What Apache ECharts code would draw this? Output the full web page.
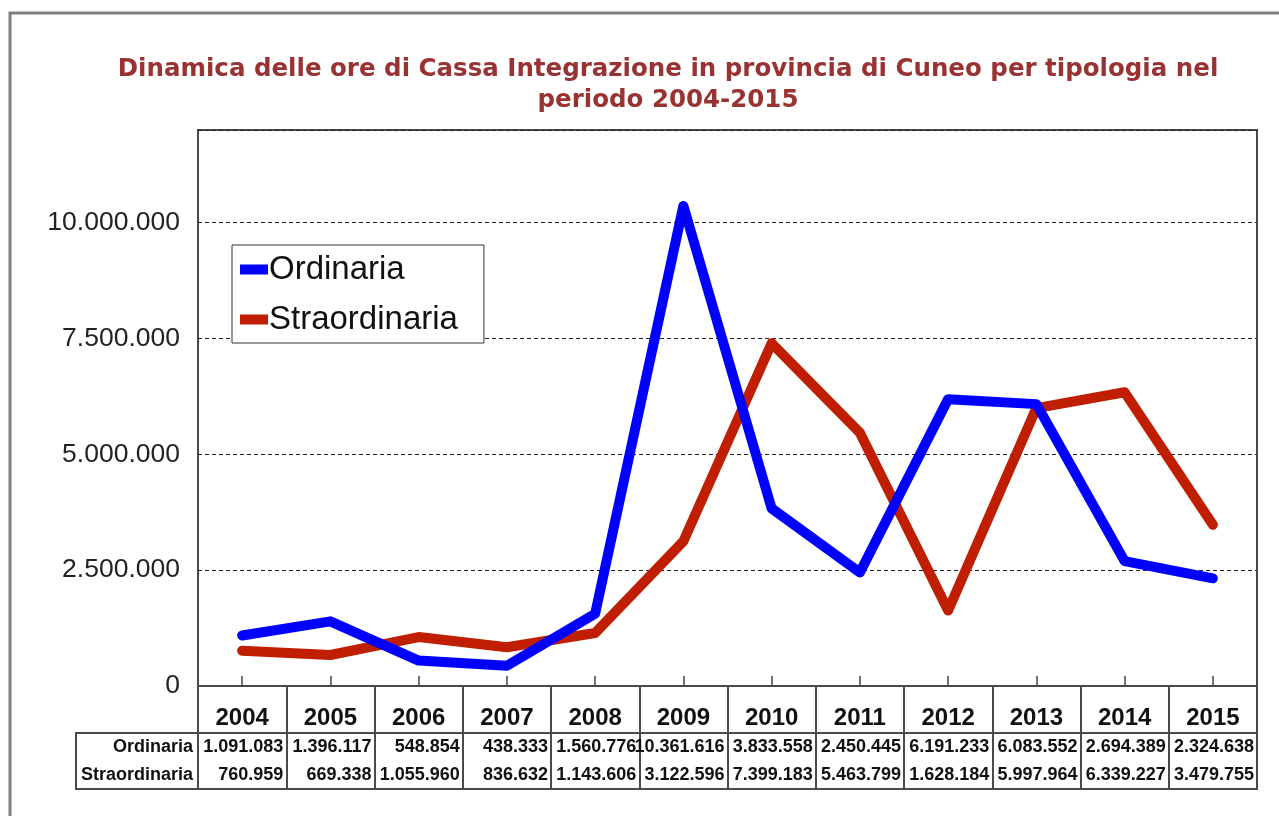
<!DOCTYPE html>
<html>
<head>
<meta charset="utf-8">
<script src="https://cdn.jsdelivr.net/npm/echarts@6/dist/echarts.min.js"></script>
<style>
  html, body { margin: 0; padding: 0; background: #fff; }
  #main { width: 1279px; height: 816px; }
</style>
</head>
<body>
<div id="main"></div>
<script>
var anni = ['2004', '2005', '2006', '2007', '2008', '2009', '2010', '2011', '2012', '2013', '2014', '2015'];
var ordinaria = [1091083, 1396117, 548854, 438333, 1560776, 10361616, 3833558, 2450445, 6191233, 6083552, 2694389, 2324638];
var straordinaria = [760959, 669338, 1055960, 836632, 1143606, 3122596, 7399183, 5463799, 1628184, 5997964, 6339227, 3479755];
var righe = ['Ordinaria', 'Straordinaria'];

// numero con i punti delle migliaia
function fmt(v) {
	return String(v).replace(/\B(?=(\d{3})+(?!\d))/g, '.');
}

// celle della tabella: [colonna, riga, valore]
var celle = [];
for (var i = 0; i < anni.length; i++) {
	celle.push([i, 0, ordinaria[i]]);
	celle.push([i, 1, straordinaria[i]]);
}

var chart = echarts.init(document.getElementById('main'));
var bordo = '#4a4a4a';

var option = {
	animation: false,
	backgroundColor: '#fff',
	title: {
		text: 'Dinamica delle ore di Cassa Integrazione in provincia di Cuneo per tipologia nel\nperiodo 2004-2015',
		left: 663,
		top: 49,
		textAlign: 'center',
		textStyle: {
			fontFamily: 'DejaVu Sans',
			fontWeight: 'bold',
			fontSize: 24.5,
			lineHeight: 31,
			color: '#993333'
		}
	},
	legend: {
		orient: 'vertical',
		left: 232,
		top: 245,
		padding: [8, 26, 7, 8],
		itemGap: 17,
		itemWidth: 28,
		itemHeight: 10,
		icon: 'rect',
		backgroundColor: '#fff',
		borderColor: '#333',
		borderWidth: 1,
		textStyle: { fontFamily: 'Liberation Sans', fontSize: 33, color: '#111', padding: [0, 0, 0, -4] },
		data: ['Ordinaria', 'Straordinaria']
	},
	graphic: [
		{ type: 'rect', z: -1, shape: { x: 10, y: 13, width: 1290, height: 830 }, style: { fill: 'none', stroke: '#808080', lineWidth: 3 } },
		{ type: 'rect', shape: { x: 76, y: 733, width: 122, height: 56 }, style: { fill: 'none', stroke: bordo, lineWidth: 2 } }
	],
	grid: [
		{ left: 198, top: 130, width: 1059, height: 556, show: true, borderColor: bordo, borderWidth: 2, backgroundColor: '#fff' },
		{ left: 198, top: 686, width: 1059, height: 47, show: true, borderColor: bordo, borderWidth: 2 },
		{ left: 198, top: 733, width: 1059, height: 56, show: true, borderColor: bordo, borderWidth: 2 }
	],
	xAxis: [
		{
			gridIndex: 0, type: 'category', data: anni, boundaryGap: true,
			axisLine: { show: true, lineStyle: { color: bordo, width: 2 } },
			axisTick: { show: true, inside: true, alignWithLabel: true, length: 10, interval: 0, lineStyle: { color: bordo, width: 1.5 } },
			axisLabel: { interval: 0, margin: 20, fontFamily: 'Liberation Sans', fontWeight: 'bold', fontSize: 24, color: '#111' }
		},
		{
			gridIndex: 1, type: 'category', data: anni, boundaryGap: true,
			axisLine: { show: false }, axisTick: { show: false }, axisLabel: { show: false },
			splitLine: { show: true, interval: 0, lineStyle: { color: bordo, width: 2 } }
		},
		{
			gridIndex: 2, type: 'category', data: anni, boundaryGap: true,
			axisLine: { show: false }, axisTick: { show: false }, axisLabel: { show: false },
			splitLine: { show: true, interval: 0, lineStyle: { color: bordo, width: 2 } }
		}
	],
	yAxis: [
		{
			gridIndex: 0, type: 'value', min: 0, max: 12000000, interval: 2500000,
			axisLine: { show: false }, axisTick: { show: false },
			axisLabel: {
				showMaxLabel: false, margin: 18,
				fontFamily: 'Liberation Sans', fontSize: 26.5, color: '#222',
				formatter: function (v) { return fmt(v); }
			},
			splitLine: { show: true, lineStyle: { color: '#222', type: [4, 3], width: 1 } }
		},
		{ gridIndex: 1, type: 'value', show: false },
		{
			gridIndex: 2, type: 'category', data: righe, inverse: true,
			axisLine: { show: false }, axisTick: { show: false }, splitLine: { show: false },
			axisLabel: { margin: 5, fontFamily: 'Liberation Sans', fontWeight: 'bold', fontSize: 18, color: '#111' }
		}
	],
	series: [
		{
			name: 'Ordinaria', type: 'line', data: ordinaria, xAxisIndex: 0, yAxisIndex: 0,
			symbol: 'none', z: 3,
			color: '#0000ff',
			lineStyle: { width: 10, color: '#0000ff', cap: 'round', join: 'round' }
		},
		{
			name: 'Straordinaria', type: 'line', data: straordinaria, xAxisIndex: 0, yAxisIndex: 0,
			symbol: 'none', z: 2,
			color: '#c01e00',
			lineStyle: { width: 10, color: '#c01e00', cap: 'round', join: 'round' }
		},
		{
			type: 'custom', xAxisIndex: 2, yAxisIndex: 2, data: celle, silent: true,
			renderItem: function (params, api) {
				var p = api.coord([api.value(0), api.value(1)]);
				var s = api.size([1, 1]);
				return {
					type: 'text',
					x: p[0] + s[0] / 2 - 3,
					y: p[1],
					style: {
						text: fmt(api.value(2)),
						align: 'right',
						verticalAlign: 'middle',
						fontFamily: 'Liberation Sans',
						fontWeight: 'bold',
						fontSize: 18,
						fill: '#111'
					}
				};
			}
		}
	]
};

chart.setOption(option);
</script>
</body>
</html>
